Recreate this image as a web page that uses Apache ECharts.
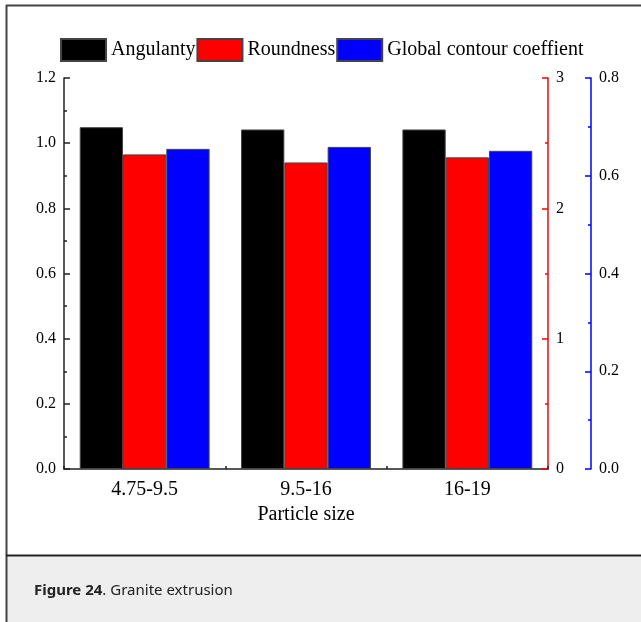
<!DOCTYPE html>
<html>
<head>
<meta charset="utf-8">
<style>
  html, body { margin: 0; padding: 0; background: #fff; }
  #chart { width: 641px; height: 622px; }
</style>
<script src="https://cdn.jsdelivr.net/npm/echarts/dist/echarts.min.js"></script>
</head>
<body>
<div id="chart"></div>
<script>
// Particle-size groups and the three shape indices per group
const categories = ['4.75-9.5', '9.5-16', '16-19'];
const angulanty = [1.049, 1.042, 1.042];      // left axis
const roundness = [2.414, 2.352, 2.391];      // red right axis
const globalContour = [0.655, 0.659, 0.651];  // blue right axis

// Tick values of the three value axes
const leftTicks = [0.0, 0.2, 0.4, 0.6, 0.8, 1.0, 1.2];
const redTicks = [0, 1, 2, 3];
const blueTicks = [0.0, 0.2, 0.4, 0.6, 0.8];

const SERIF = "'Liberation Serif', 'Times New Roman', serif";
const SANS = "'Noto Sans', 'Open Sans', sans-serif";

function valueAxis(ticks, color, position, offset, decimals, labelMargin) {
  return {
    type: 'value',
    position: position,
    offset: offset,
    min: ticks[0],
    max: ticks[ticks.length - 1],
    interval: ticks[1] - ticks[0],
    splitLine: { show: false },
    axisLine: { show: true, onZero: false, lineStyle: { color: color, width: 1.5 } },
    axisTick: { show: true, inside: true, length: 6, lineStyle: { color: color, width: 1.5 } },
    minorTick: { show: true, splitNumber: 2, length: 3, lineStyle: { color: color, width: 1.5 } },
    axisLabel: {
      color: '#000', fontFamily: SERIF, fontSize: 16, margin: labelMargin,
      formatter: v => v.toFixed(decimals)
    }
  };
}

const chart = echarts.init(document.getElementById('chart'), null, { renderer: 'canvas' });

const barBorder = { borderColor: '#444', borderWidth: 1 };

chart.setOption({
  animation: false,
  backgroundColor: '#fff',
  textStyle: { fontFamily: SERIF },
  legend: {
    left: 60, top: 38, padding: 0,
    itemWidth: 45, itemHeight: 22, itemGap: 1,
    icon: 'rect',
    textStyle: { fontFamily: SERIF, fontSize: 20, color: '#000' },
    data: ['Angulanty', 'Roundness', 'Global contour coeffient']
  },
  grid: { left: 64, right: 93, top: 78, bottom: 153, containLabel: false, outerBoundsMode: 'none' },
  xAxis: [
    {
      type: 'category',
      data: categories,
      name: 'Particle size',
      nameLocation: 'middle',
      nameGap: 36,
      nameTextStyle: { fontFamily: SERIF, fontSize: 20, color: '#000' },
      axisLine: { show: true, lineStyle: { color: '#222', width: 1.5 } },
      axisTick: { show: true, inside: true, alignWithLabel: true, length: 6, lineStyle: { color: '#222', width: 1.5 } },
      axisLabel: { color: '#000', fontFamily: SERIF, fontSize: 20, margin: 11 },
      splitLine: { show: false }
    },
    {
      // boundary ticks between groups
      type: 'category',
      data: categories,
      position: 'bottom',
      axisLine: { show: false },
      axisTick: { show: true, inside: true, length: 3, lineStyle: { color: '#222', width: 1.5 } },
      axisLabel: { show: false },
      splitLine: { show: false }
    }
  ],
  yAxis: [
    valueAxis(leftTicks, '#222', 'left', 0, 1, 8),
    valueAxis(redTicks, '#ff0000', 'right', 0, 0, 8),
    valueAxis(blueTicks, '#0000ff', 'right', 43, 1, 8)
  ],
  series: [
    {
      name: 'Angulanty', type: 'bar', xAxisIndex: 0, yAxisIndex: 0,
      data: angulanty, barGap: '0%', barCategoryGap: '19.5%',
      itemStyle: Object.assign({ color: '#000000' }, barBorder)
    },
    {
      name: 'Roundness', type: 'bar', xAxisIndex: 0, yAxisIndex: 1,
      data: roundness, barGap: '0%', barCategoryGap: '19.5%',
      itemStyle: Object.assign({ color: '#ff0000' }, barBorder)
    },
    {
      name: 'Global contour coeffient', type: 'bar', xAxisIndex: 0, yAxisIndex: 2,
      data: globalContour, barGap: '0%', barCategoryGap: '19.5%',
      itemStyle: Object.assign({ color: '#0000ff' }, barBorder)
    }
  ],
  graphic: [
    // caption panel
    { type: 'rect', silent: true, z: -1, shape: { x: 7, y: 556, width: 640, height: 70 }, style: { fill: '#eeeeee' } },
    // frame lines
    { type: 'line', silent: true, shape: { x1: 6, y1: 5.5, x2: 641, y2: 5.5 }, style: { stroke: '#444', lineWidth: 2 } },
    { type: 'line', silent: true, shape: { x1: 6.5, y1: 5, x2: 6.5, y2: 622 }, style: { stroke: '#444', lineWidth: 2 } },
    { type: 'line', silent: true, shape: { x1: 6, y1: 555.5, x2: 641, y2: 555.5 }, style: { stroke: '#222', lineWidth: 2 } },
    {
      type: 'text', silent: true, x: 34, y: 591,
      style: {
        text: '{b|Figure 24}. Granite extrusion',
        fontFamily: SANS, fontSize: 15, fill: '#222',
        verticalAlign: 'middle',
        rich: { b: { fontFamily: SANS, fontSize: 15, fontWeight: 'bold', fill: '#222' } }
      }
    }
  ]
});
</script>
</body>
</html>
